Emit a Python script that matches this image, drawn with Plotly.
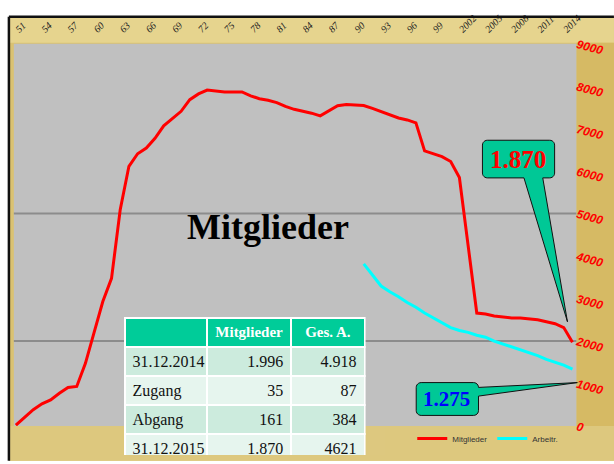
import math
import plotly.graph_objects as go

# ---------------- data ----------------
years_m = list(range(1951, 2003)) + list(range(2004, 2016))
mitglieder = [20, 205, 386, 523, 614, 773, 909, 932, 1477, 2205,
              2932, 3477, 5091, 6114, 6409, 6545, 6773, 7068, 7250, 7409,
              7682, 7818, 7909, 7886, 7864, 7864, 7864, 7773, 7705, 7670,
              7614, 7523, 7455, 7409, 7364, 7300, 7420, 7540, 7568, 7557,
              7545, 7477, 7398, 7318, 7250, 7205, 7136, 6477, 6409, 6341,
              6227, 5850,
              2660, 2636, 2591, 2568, 2545, 2545, 2523, 2500, 2455, 2409,
              2318, 1970]
years_a = list(range(1991, 2016))
aktive = [3818, 3568, 3295, 3159, 3045, 2909, 2795, 2659, 2545, 2432,
          2318, 2250, 2205, 2136, 2091, 2000, 1932, 1864, 1795, 1727,
          1659, 1568, 1500, 1432, 1341]
tick_years = list(range(1951, 2015, 3))
tick_labels = ["51", "54", "57", "60", "63", "66", "69", "72", "75", "78", "81",
               "84", "87", "90", "93", "96", "99", "2002", "2005", "2008", "2011", "2014"]
y_ticks = list(range(0, 10000, 1000))
grid_values = [2000, 5000]
series_names = ["Mitglieder", "Arbeitr."]
table_header = ["", "Mitglieder", "Ges. A."]
table_rows = ["31.12.2014", "Zugang", "Abgang", "31.12.2015"]
table_mitgl = ["1.996", "35", "161", "1.870"]
table_ges = ["4.918", "87", "384", "4621"]
callout_red = "1.870"
callout_blue = "1.275"
title_text = "Mitglieder"

# ---------------- geometry helpers (reference pixels -> paper) ----------------
W, H = 614, 464


def px(x):
    return x / W


def py(y):
    return 1 - y / H


def path_from(points_px):
    s = ""
    for i, (x, y) in enumerate(points_px):
        s += ("M" if i == 0 else "L") + f"{px(x):.5f},{py(y):.5f} "
    return s + "Z"


def rounded_callout(x0, y0, x1, y1, r, wedge_side, wedge):
    def arc(cx, cy, a0, a1):
        out = []
        for k in range(7):
            a = math.radians(a0 + (a1 - a0) * k / 6)
            out.append((cx + r * math.cos(a), cy + r * math.sin(a)))
        return out
    pts = []
    pts += arc(x0 + r, y0 + r, 180, 270)
    pts += arc(x1 - r, y0 + r, 270, 360)
    if wedge_side == "right":
        pts += wedge
    pts += arc(x1 - r, y1 - r, 0, 90)
    if wedge_side == "bottom":
        pts += wedge
    pts += arc(x0 + r, y1 - r, 90, 180)
    return path_from(pts)


fig = go.Figure()

fig.add_trace(go.Scatter(x=years_m, y=mitglieder, mode="lines", name=series_names[0],
                         line=dict(color="#FF0000", width=3)))
fig.add_trace(go.Scatter(x=years_a, y=aktive, mode="lines", name=series_names[1],
                         line=dict(color="#00FFFF", width=3)))

fig.add_trace(go.Table(
    domain=dict(x=[px(125), px(368)], y=[0, py(322)]),
    columnwidth=[83, 85, 74],
    header=dict(values=table_header,
                fill_color="#00CC99",
                line=dict(color="white", width=2),
                align=["left", "center", "center"],
                height=29,
                font=dict(family="Liberation Serif", size=15, color="white", weight="bold")),
    cells=dict(values=[table_rows, table_mitgl, table_ges],
               fill_color=[["#CCEBDD", "#E6F5EE", "#CCEBDD", "#E6F5EE"]] * 3,
               line=dict(color="white", width=2),
               align=["left", "right", "right"],
               height=29,
               font=dict(family="Liberation Serif", size=16, color="#111111")),
))

shapes = [
    dict(type="rect", xref="paper", yref="paper", x0=px(8), x1=px(620), y0=py(470), y1=py(10),
         fillcolor="#DAC272", line=dict(width=0), layer="below"),
    dict(type="rect", xref="paper", yref="paper", x0=px(9), x1=px(620), y0=py(37), y1=py(11),
         fillcolor="#E6D48E", line=dict(width=0), layer="below"),
    dict(type="rect", xref="paper", yref="paper", x0=px(9), x1=px(620), y0=py(470), y1=py(434),
         fillcolor="#DDC87E", line=dict(width=0), layer="below"),
    dict(type="rect", xref="paper", yref="paper", x0=px(582), x1=px(620), y0=py(434), y1=py(37),
         fillcolor="#D6BA64", line=dict(width=0), layer="below"),
    dict(type="rect", xref="paper", yref="paper", x0=px(13), x1=px(582), y0=py(434), y1=py(38),
         fillcolor="#C0C0C0", line=dict(width=0), layer="below"),
    dict(type="line", xref="paper", yref="paper", x0=px(8), x1=px(620), y0=py(10), y1=py(10),
         line=dict(color="#111111", width=2.5)),
    dict(type="line", xref="paper", yref="paper", x0=px(8), x1=px(8), y0=py(10), y1=py(470),
         line=dict(color="#111111", width=2.5)),
]
for gv in grid_values:
    shapes.append(dict(type="line", xref="paper", yref="y", x0=px(13), x1=px(582), y0=gv, y1=gv,
                       line=dict(color="#8C8C8C", width=2), layer="below"))

shapes.append(dict(type="path", xref="paper", yref="paper",
                   path=rounded_callout(487, 138, 560, 177, 5, "bottom",
                                        [(548, 177), (573, 326), (529, 177)]),
                   fillcolor="#00C896", line=dict(color="#111111", width=1)))
shapes.append(dict(type="path", xref="paper", yref="paper",
                   path=rounded_callout(420, 389, 483, 423, 5, "right",
                                        [(483, 394), (583, 389), (483, 403)]),
                   fillcolor="#00C896", line=dict(color="#111111", width=1)))

annotations = [
    dict(text=title_text, xref="paper", yref="paper", x=px(270), y=py(228),
         xanchor="center", yanchor="middle", showarrow=False,
         font=dict(family="Liberation Serif", size=36, color="black", weight="bold")),
    dict(text=callout_red, xref="paper", yref="paper", x=px(523), y=py(158),
         xanchor="center", yanchor="middle", showarrow=False,
         font=dict(family="Liberation Serif", size=25, color="#FF0000", weight="bold")),
    dict(text=callout_blue, xref="paper", yref="paper", x=px(451), y=py(406),
         xanchor="center", yanchor="middle", showarrow=False,
         font=dict(family="Liberation Serif", size=21, color="#0000FF", weight="bold")),
]

fig.update_layout(
    width=W, height=H, autosize=False,
    margin=dict(l=0, r=0, t=0, b=0),
    paper_bgcolor="white",
    plot_bgcolor="rgba(0,0,0,0)",
    shapes=shapes,
    annotations=annotations,
    showlegend=True,
    legend=dict(orientation="h", x=px(416), y=py(447), xanchor="left", yanchor="middle",
                bgcolor="rgba(0,0,0,0)", font=dict(family="Liberation Sans", size=8, color="#333333"),
                itemwidth=30, tracegroupgap=0),
    xaxis=dict(domain=[px(13), px(582)], range=[1950.77, 2015.45], side="top",
               tickmode="array", tickvals=tick_years, ticktext=tick_labels, tickangle=-45,
               ticklabelstandoff=6,
               tickfont=dict(family="Liberation Serif", size=10, color="#222222", style="italic"),
               showgrid=False, zeroline=False, showline=False, ticks=""),
    yaxis=dict(domain=[py(434), py(38)], range=[0, 9000], side="right",
               tickmode="array", tickvals=y_ticks, ticktext=[str(v) for v in y_ticks],
               tickangle=15,
               tickfont=dict(family="Liberation Sans", size=12, color="#FF0000",
                             style="italic", weight="bold"),
               showgrid=False, zeroline=False, showline=False, ticks=""),
)

fig.write_html(
    "out.html",
    config={"displayModeBar": False},
    post_script="document.body.style.margin='0';document.documentElement.style.overflow='hidden';",
)
